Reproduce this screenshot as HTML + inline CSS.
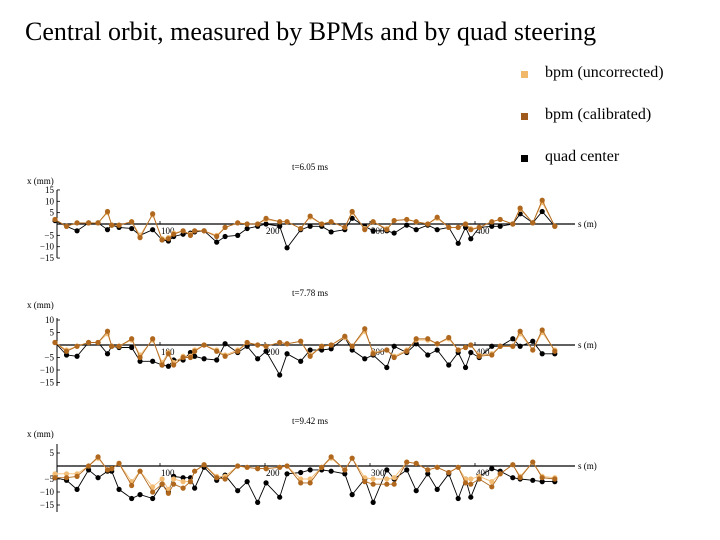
<!DOCTYPE html>
<html><head><meta charset="utf-8">
<style>
html,body{margin:0;padding:0;background:#fff;}
body{width:720px;height:540px;overflow:hidden;position:relative;font-family:"Liberation Serif",serif;}
#title{position:absolute;left:25px;top:17px;font-size:26px;color:#000;white-space:nowrap;}
.leg{position:absolute;left:545px;font-size:16px;white-space:nowrap;}
.mk{position:absolute;left:521px;width:7px;height:7px;}
</style></head>
<body>
<div id="title">Central orbit, measured by BPMs and by quad steering</div>
<div class="mk" style="top:71px;background:#f0b868"></div>
<div class="leg" style="top:64px">bpm (uncorrected)</div>
<div class="mk" style="top:113px;background:#a05a1c"></div>
<div class="leg" style="top:106px">bpm (calibrated)</div>
<div class="mk" style="top:155px;background:#000"></div>
<div class="leg" style="top:148px">quad center</div>
<svg id="chart" width="720" height="540" style="position:absolute;left:0;top:0"></svg>
<script>
const sPos=[0,11,21,32,41,50,54,61,73,81,93,102,108,113,122,129,133,142,154,162,174,183,193,201,214,221,234,243,254,263,276,283,295,303,316,323,335,344,355,364,375,384,391,396,404,416,424,436,443,455,464,476];
const xTicks=[100,200,300,400];
const titles=["t=6.05 ms","t=7.78 ms","t=9.42 ms"];
const yTicks1=[15,10,5,-5,-10,-15];
const yTicks2=[10,5,-5,-10,-15];
const yTicks3=[5,-5,-10,-15];
const unc1=[2,-1,0.5,0.5,0.5,5,-0.5,-0.5,1,-5,4,-6.5,-6,-4,-3,-4.5,-3,-3,-5,-1.5,0.5,0,0,2,1,1,-2,3,0,1,-1.5,5,-2,1,-2,1.5,2,1,0,2.5,-1.5,-1.5,0,-2,-1.5,1,2,0,6.5,0.5,9.5,-1];
const cal1=[2,-1,0.5,0.5,0.5,5.5,-0.5,-0.5,1,-6,4.5,-7,-6.5,-4.5,-3,-5,-3,-3,-5.5,-1.5,0.5,0,0,2.5,1,1,-2,3.5,0,1,-1.5,5.5,-2.5,1,-2.5,1.5,2,1,0,3,-1.5,-1.5,0,-2.5,-1.5,1,2,0,7,0.5,10.5,-1];
const quad1=[1.5,-1,-3,0.5,0.5,-2.5,-0.5,-1.5,-2,-5,-2.5,-7,-7.5,-5.5,-4.5,-4,-3.5,-3,-8,-5.5,-5,-2,-1,0,-1,-10.5,-2.5,-1,-1,-3.5,-2.5,2.5,-1,-3,-3,-4,-0.5,-2.5,-0.5,-2.5,-1.5,-8.5,-1.5,-6.5,-1.5,-1,-1,0,4.5,0.5,5.5,-1];
const unc2=[1,-2,-0.5,1,1,4.5,-0.5,-0.5,2,-4,2,-7,-3,-7,-4.5,-4.5,-2,0,-2,-4,-2,1,0,-0.5,1,0.5,1.5,-4,-0.5,0,3,-0.5,5.5,-3,-2,-4.5,-2,2,2,0.5,2.5,-2,-1,0,-4,-3.5,-0.5,-0.5,4.5,-2,5,-2];
const cal2=[1,-2.5,-0.5,1,1,5.5,-0.5,-0.5,2.5,-5,2.5,-8,-3.5,-8,-5,-5,-2.5,0,-2.5,-4.5,-2.5,1,0,-0.5,1,0.5,1.5,-4.5,-0.5,0,3.5,-0.5,6.5,-3.5,-2,-5,-2.5,2.5,2.5,0.5,3,-2,-1,0,-4.5,-4,-0.5,-0.5,5.5,-2,6,-2.5];
const quad2=[1,-4,-4.5,1,1,-3.5,-0.5,-1,-1,-6.5,-6.5,-8,-8.5,-6,-6,-3,-4.5,-5.5,-6,0.5,-3,-0.5,-5.5,-2.5,-12,-3.5,-6.5,-2,-2,-1.5,3,-2,-5.5,-4,-9,-0.5,-3,0.5,-4,-2,-8,-3,-9,-3,-5,-0.5,-0.5,2.5,-0.5,1.5,-3.5,-3.5];
const unc3=[-3,-3,-3,0,3,-1.5,-1,1,-6,-2,-8,-5,-9,-5,-6,-6,-2,0.5,-4,-4,0,-0.5,-1,-1,-0.5,0,-5,-5,-0.5,3,-1.5,3,-4.5,-5,-5,-4.5,1.5,1,-1.5,-0.5,-2.5,-0.5,-5,-5,-4,-6,-3,0.5,-4,1.5,-4,-4.5];
const cal3=[-4.5,-4.5,-4,0,3.5,-1.5,-1,1,-7.5,-2,-10,-7,-10.5,-7,-8.5,-6,-2,0.5,-4.5,-5,0,-0.5,-1,-1,-0.5,0,-6.5,-6.5,-0.5,3.5,-1.5,3,-6,-7,-7,-7,1.5,1,-1.5,-0.5,-2.5,-0.5,-6.5,-7,-5,-8,-3,0.5,-4.5,1.5,-4.5,-5];
const quad3=[-4.5,-5.5,-9,-1.5,-4.5,-2,-2,-9,-12.5,-11,-12.5,-7,-10,-4,-4.5,-4.5,-8.5,-0.5,-5.5,-3.5,-9.5,-6,-14,-6.5,-12,-3,-2.5,-1.5,-1.5,-2,-3,-11,-5,-14,-1.5,-5,-1.5,-9.5,-3,-9,-3,-12.5,-5,-12,-4,-1,-2,-4.5,-5,-5.5,-6,-6];

const svg=document.getElementById('chart');
const NS='http://www.w3.org/2000/svg';
function mk(tag,attrs){const e=document.createElementNS(NS,tag);for(const k in attrs)e.setAttribute(k,attrs[k]);svg.appendChild(e);return e;}
const X0=55,KX=1.05,AXR=575,YAX=57;
const panels=[
 {y0:224,k:2.27,ticks:yTicks1,top:190,bot:258,title:titles[0],ty:170,ly:184,u:unc1,c:cal1,q:quad1},
 {y0:345,k:2.5,ticks:yTicks2,top:318,bot:386,title:titles[1],ty:296,ly:308,u:unc2,c:cal2,q:quad2},
 {y0:466,k:2.6,ticks:yTicks3,top:444,bot:512,title:titles[2],ty:424,ly:437,u:unc3,c:cal3,q:quad3}
];
function sx(s){return X0+s*KX;}
panels.forEach((p,pi)=>{
 const sy=v=>p.y0-v*p.k;
 let t=mk('text',{x:310,y:p.ty,'font-size':'9','text-anchor':'middle','font-family':'Liberation Serif'});t.textContent=p.title;
 
 
 t=mk('text',{x:27,y:p.ly,'font-size':'9','font-family':'Liberation Serif'});t.textContent='x (mm)';
 
 
 let a=mk('line',{x1:YAX,x2:YAX,y1:p.top,y2:p.bot,stroke:'#000','stroke-width':1});
 
 
 p.ticks.forEach(v=>{
  mk('line',{x1:YAX,x2:YAX+3,y1:sy(v),y2:sy(v),stroke:'#000','stroke-width':0.8});
  const l=mk('text',{x:YAX-3,y:sy(v)+3,'font-size':'9','text-anchor':'end','font-family':'Liberation Serif'});
  l.textContent=v<0?'\u2212'+(-v):String(v);
  
  
 });
 a=mk('line',{x1:YAX,x2:AXR,y1:p.y0,y2:p.y0,stroke:'#000','stroke-width':1.2});
 
 
 xTicks.forEach(v=>{
  mk('line',{x1:sx(v),x2:sx(v),y1:p.y0-3,y2:p.y0,stroke:'#000','stroke-width':0.8});
  const l=mk('text',{x:sx(v)+1,y:p.y0+10,'font-size':'9','font-family':'Liberation Serif'});
  l.textContent=String(v);
  
  
 });
 t=mk('text',{x:AXR+3,y:p.y0+3,'font-size':'9','font-family':'Liberation Serif'});t.textContent='s (m)';
 
 
 const series=[[p.u,'#f2bc74','uncorrected'],[p.c,'#b0681e','calibrated'],[p.q,'#000','quad']];
 [series[2],series[0],series[1]].forEach(([vals,col,nm])=>{
  const pts=vals.map((v,i)=>sx(sPos[i]).toFixed(1)+','+sy(v).toFixed(1)).join(' ');
  const pl=mk('polyline',{points:pts,fill:'none',stroke:col,'stroke-width':0.9});
  
  
  vals.forEach((v,i)=>{
   const c=mk('circle',{cx:sx(sPos[i]),cy:sy(v),r:2.6,fill:col});
   
   
  });
 });
});
</script>
</body></html>
